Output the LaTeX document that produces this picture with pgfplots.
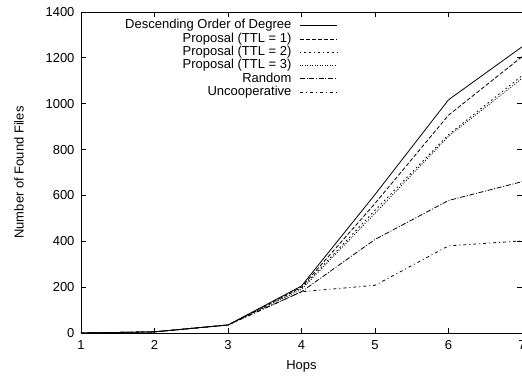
\documentclass[border=0pt]{standalone}
\usepackage{fontspec}
\setmainfont{Liberation Sans}
\usepackage{pgfplots}
\pgfplotsset{compat=1.18}

\begin{document}
\fontsize{13}{15.6}\selectfont
\begin{tikzpicture}
\begin{axis}[
  scale only axis,
  width=441pt, height=321pt,
  xmin=1, xmax=7, ymin=0, ymax=1400,
  xtick={1,2,3,4,5,6,7},
  ytick={0,200,400,600,800,1000,1200,1400},
  tick align=inside,
  tick pos=both,
  major tick length=5pt,
  axis line style={line width=0.8pt},
  every tick/.style={black, line width=0.8pt},
  /pgf/number format/assume math mode=true,
  /pgf/number format/1000 sep={},
  tick label style={font=\fontsize{13}{15.6}\selectfont},
  xticklabel style={yshift=-3pt},
  yticklabel style={xshift=-2pt},
  xlabel={Hops},
  ylabel={Number of Found Files},
  xlabel style={at={(axis description cs:0.5,0)}, anchor=center, yshift=-33pt},
  ylabel style={at={(axis description cs:0,0.5)}, anchor=center, yshift=62pt-\pgfkeysvalueof{/pgfplots/ylabel shift}},
  label style={font=\fontsize{13}{15.6}\selectfont},
  legend plot pos=right,
  legend cell align=right,
  legend style={draw=none, fill=none, inner sep=0pt, outer sep=0pt,
    at={(axis description cs:0.581,0.977)}, anchor=north east,
    font=\fontsize{13}{15.6}\selectfont,
    column sep=8pt, row sep=0.8pt,
    nodes={inner sep=0pt, text height=9.5pt, text depth=3pt}},
  legend image code/.code={\draw[#1] (0pt,0pt) -- (37pt,0pt);},
  every axis plot/.append style={line width=0.8pt, black},
]
% Descending order of degree
\addplot[solid] coordinates {(1,0) (2,5) (3,35) (4,205) (5,604) (6,1017) (7,1248)};
\addlegendentry{Descending Order of Degree}
% Proposal, TTL = 1
\addplot[dash pattern=on 4pt off 2pt] coordinates {(1,0) (2,5) (3,35) (4,200) (5,565) (6,950) (7,1205)};
\addlegendentry{Proposal (TTL = 1)}
% Proposal, TTL = 2
\addplot[dash pattern=on 1.6pt off 3pt] coordinates {(1,0) (2,5) (3,35) (4,195) (5,535) (6,865) (7,1122)};
\addlegendentry{Proposal (TTL = 2)}
% Proposal, TTL = 3
\addplot[dash pattern=on 1pt off 1.5pt] coordinates {(1,0) (2,5) (3,35) (4,190) (5,522) (6,858) (7,1110)};
\addlegendentry{Proposal (TTL = 3)}
% Random
\addplot[dash pattern=on 5pt off 1.7pt on 1pt off 1.7pt] coordinates {(1,0) (2,5) (3,35) (4,180) (5,408) (6,578) (7,660)};
\addlegendentry{Random}
% Uncooperative
\addplot[dash pattern=on 3pt off 3pt on 1pt off 3pt] coordinates {(1,0) (2,5) (3,35) (4,180) (5,208) (6,380) (7,402)};
\addlegendentry{Uncooperative}
\end{axis}
\pgfresetboundingbox
\useasboundingbox (-81pt,-43pt) rectangle (441pt,333pt);
\end{tikzpicture}
\end{document}
